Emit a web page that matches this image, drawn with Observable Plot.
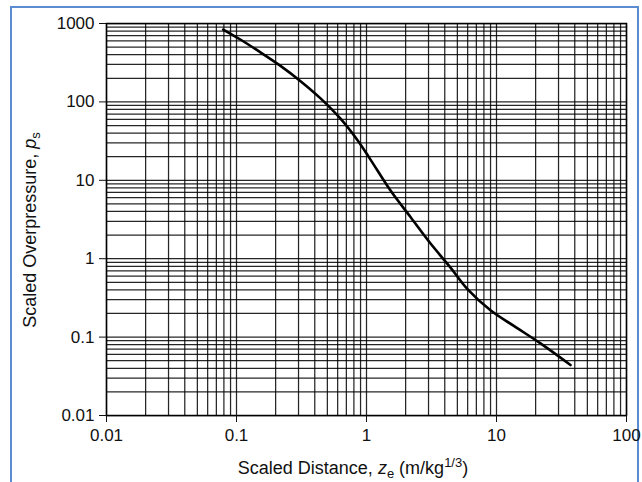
<!DOCTYPE html>
<html>
<head>
<meta charset="utf-8">
<script src="https://cdn.jsdelivr.net/npm/d3@7"></script>
<script src="https://cdn.jsdelivr.net/npm/@observablehq/plot@0.6"></script>
<style>
  body { margin: 0; background: #fff; }
  #wrap { position: relative; width: 642px; height: 482px; overflow: hidden; background: #fff; }
  #border { position: absolute; left: 10px; top: 6px; width: 625px; height: 500px;
            border: 2px solid #5b8bd0; border-bottom: none; }
  #chart { position: absolute; left: 0; top: 0; }
</style>
</head>
<body>
<div id="wrap"><div id="border"></div><div id="chart"></div></div>
<script>
// Scaled distance z_e (m/kg^1/3) and scaled overpressure p_s
const distance     = [0.079, 0.107, 0.153, 0.218, 0.311, 0.443, 0.631, 0.853, 1.07, 1.53, 2.18, 3.11, 4.43, 5.98, 8.99, 13.5, 21.8, 37.1];
const overpressure = [838,   625,   428,   288,   184,   111,   61,    32.4,  18.5, 7.4,  3.4,  1.56, 0.77, 0.41, 0.22, 0.14, 0.083, 0.044];

const xTicks = [0.01, 0.1, 1, 10, 100];
const yTicks = [0.01, 0.1, 1, 10, 100, 1000];
const gridMultiples = [1, 2, 3, 4, 5, 6, 7, 8, 9];

const curve = distance.map((d, i) => ({ x: d, y: overpressure[i] }));
const decadeGrid = ticks => ticks.slice(0, -1).flatMap(t => gridMultiples.map(m => +(t * m).toPrecision(6))).concat([ticks[ticks.length - 1]]);
const xGrid = decadeGrid(xTicks);
const yGrid = decadeGrid(yTicks);

const plot = Plot.plot({
  width: 642,
  height: 482,
  marginLeft: 106,
  marginRight: 16,
  marginTop: 23,
  marginBottom: 67,
  style: { fontFamily: "'Liberation Sans', Arial, sans-serif", fontSize: "17px", color: "#111", background: "transparent", overflow: "visible" },
  x: { type: "log", domain: [0.01, 100] },
  y: { type: "log", domain: [0.01, 1000] },
  marks: [
    Plot.ruleX(xGrid, { stroke: "#000", strokeWidth: 1.25, strokeOpacity: 0.85 }),
    Plot.ruleY(yGrid, { stroke: "#000", strokeWidth: 1.25, strokeOpacity: 0.85 }),
    Plot.frame({ stroke: "#000", strokeWidth: 1.5 }),
    Plot.axisX({ ticks: xTicks, tickFormat: d => String(d), tickSize: 7, tickPadding: 6, label: null, fontSize: 17 }),
    Plot.axisY({ ticks: yTicks, tickFormat: d => String(d), tickSize: 7, tickPadding: 5, label: null, fontSize: 17 }),
    Plot.line(curve, { x: "x", y: "y", curve: "catmull-rom", stroke: "#000", strokeWidth: 2.6 })
  ]
});

document.getElementById("chart").appendChild(plot);

const svg = d3.select(plot);
const font = "'Liberation Sans', Arial, sans-serif";

// x-axis title
const xl = svg.append("text")
  .attr("x", 353).attr("y", 474)
  .attr("text-anchor", "middle")
  .attr("fill", "#111")
  .style("font-family", font).style("font-size", "18px");
xl.append("tspan").text("Scaled Distance, ");
xl.append("tspan").attr("font-style", "italic").text("z");
xl.append("tspan").attr("font-size", "13px").attr("dy", 4).text("e");
xl.append("tspan").attr("dy", -4).text(" (m/kg");
xl.append("tspan").attr("font-size", "13px").attr("dy", -7).text("1/3");
xl.append("tspan").attr("dy", 7).text(")");

// y-axis title
const yl = svg.append("text")
  .attr("transform", "translate(36,230) rotate(-90)")
  .attr("text-anchor", "middle")
  .attr("fill", "#111")
  .style("font-family", font).style("font-size", "18px");
yl.append("tspan").text("Scaled Overpressure, ");
yl.append("tspan").attr("font-style", "italic").text("p");
yl.append("tspan").attr("font-size", "13px").attr("dy", 4).text("s");
</script>
</body>
</html>
